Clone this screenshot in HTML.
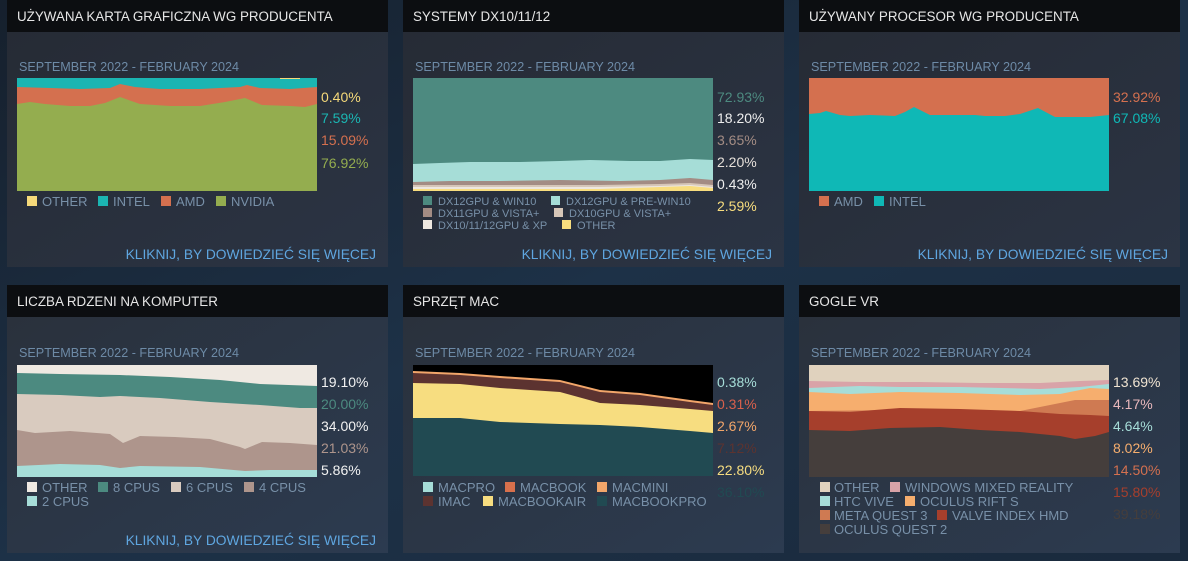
<!DOCTYPE html>
<html><head><meta charset="utf-8"><style>
html,body{margin:0;padding:0;background:#1b2838;}
svg{display:block}
text{font-family:"Liberation Sans",sans-serif;}
</style></head><body>
<svg width="1188" height="561" viewBox="0 0 1188 561" xmlns="http://www.w3.org/2000/svg">
<defs>
<linearGradient id="bg" x1="0" y1="0" x2="1" y2="1">
<stop offset="0" stop-color="#16202d"/><stop offset="0.5" stop-color="#1d3147"/><stop offset="1" stop-color="#1a2a3d"/>
</linearGradient>
<linearGradient id="pb" x1="0" y1="0" x2="1" y2="1">
<stop offset="0" stop-color="#262b35"/><stop offset="1" stop-color="#2b3444"/>
</linearGradient>
<linearGradient id="pb2" x1="0" y1="0" x2="1" y2="1">
<stop offset="0" stop-color="#2a313c"/><stop offset="1" stop-color="#2c3b50"/>
</linearGradient>
</defs>
<rect width="1188" height="561" fill="url(#bg)"/>
<g>
<rect x="7" y="0" width="381" height="32" fill="#0c0e11"/><rect x="7" y="32" width="381" height="235" fill="url(#pb)"/>
<rect x="403" y="0" width="381" height="32" fill="#0c0e11"/><rect x="403" y="32" width="381" height="235" fill="url(#pb)"/>
<rect x="799" y="0" width="381" height="32" fill="#0c0e11"/><rect x="799" y="32" width="381" height="235" fill="url(#pb)"/>
<rect x="7" y="285" width="381" height="32" fill="#0c0e11"/><rect x="7" y="317" width="381" height="236" fill="url(#pb2)"/>
<rect x="403" y="285" width="381" height="32" fill="#0c0e11"/><rect x="403" y="317" width="381" height="236" fill="url(#pb2)"/>
<rect x="799" y="285" width="381" height="32" fill="#0c0e11"/><rect x="799" y="317" width="381" height="236" fill="url(#pb2)"/>
</g>
<g fill="#e6e6e6" font-size="13.4">
<text x="17" y="21">UŻYWANA KARTA GRAFICZNA WG PRODUCENTA</text>
<text x="413" y="21">SYSTEMY DX10/11/12</text>
<text x="809" y="21">UŻYWANY PROCESOR WG PRODUCENTA</text>
<text x="17" y="306">LICZBA RDZENI NA KOMPUTER</text>
<text x="413" y="306">SPRZĘT MAC</text>
<text x="809" y="306">GOGLE VR</text>
</g>
<g fill="#6d8aa6" font-size="12.6">
<text x="19" y="71">SEPTEMBER 2022 - FEBRUARY 2024</text>
<text x="415" y="71">SEPTEMBER 2022 - FEBRUARY 2024</text>
<text x="811" y="71">SEPTEMBER 2022 - FEBRUARY 2024</text>
<text x="19" y="357">SEPTEMBER 2022 - FEBRUARY 2024</text>
<text x="415" y="357">SEPTEMBER 2022 - FEBRUARY 2024</text>
<text x="811" y="357">SEPTEMBER 2022 - FEBRUARY 2024</text>
</g>
<g fill="#5fa6e0" font-size="13.8" text-anchor="end">
<text x="376" y="259">KLIKNIJ, BY DOWIEDZIEĆ SIĘ WIĘCEJ</text>
<text x="772" y="259">KLIKNIJ, BY DOWIEDZIEĆ SIĘ WIĘCEJ</text>
<text x="1168" y="259">KLIKNIJ, BY DOWIEDZIEĆ SIĘ WIĘCEJ</text>
<text x="376" y="545">KLIKNIJ, BY DOWIEDZIEĆ SIĘ WIĘCEJ</text>
</g>

<!-- GPU chart -->
<rect x="17" y="78" width="300" height="113" fill="#1bb5b2"/>
<polygon fill="#d4704f" points="17,87 50,88 80,89 110,88 120,84 135,87 160,89 200,89 240,87 247,85 260,88 290,89 317,87 317,191 17,191"/>
<polygon fill="#94ad4f" points="17,104 30,102 45,104 70,106 90,106 105,103 120,97 140,104 170,106 200,106 225,102 245,98 262,105 290,106 305,107 317,104 317,191 17,191"/>
<rect x="280" y="78" width="20" height="1" fill="#f5d97a"/>
<g font-size="14"><text x="321" y="102" fill="#f5d97a">0.40%</text><text x="321" y="123" fill="#1bb5b2">7.59%</text><text x="321" y="145" fill="#d4704f">15.09%</text><text x="321" y="168" fill="#94ad4f">76.92%</text></g>
<g font-size="13" fill="#7890a8">
<rect x="27" y="196" width="10" height="10" fill="#f5d97a"/><text x="42" y="206">OTHER</text>
<rect x="98" y="196" width="10" height="10" fill="#1bb5b2"/><text x="113" y="206">INTEL</text>
<rect x="161" y="196" width="10" height="10" fill="#d4704f"/><text x="176" y="206">AMD</text>
<rect x="216" y="196" width="10" height="10" fill="#94ad4f"/><text x="231" y="206">NVIDIA</text>
</g>

<!-- DX chart -->
<rect x="413" y="78" width="300" height="113" fill="#4d8a80"/>
<polygon fill="#a6ddd7" points="413,164 440,163 470,162 520,162 560,161 590,160 630,161 660,161 690,159 713,160 713,191 413,191"/>
<polygon fill="#a38c84" points="413,182 450,181 500,181 560,180 620,181 660,180 690,178 713,180 713,191 413,191"/>
<polygon fill="#d6c6b8" points="413,185 500,185 600,185 660,184 690,183 713,185 713,191 413,191"/>
<polygon fill="#ede7e0" points="413,187 600,187 660,186 690,185 713,187 713,191 413,191"/>
<polygon fill="#f8dd7e" points="413,189 600,189 660,187 690,186 713,188 713,191 413,191"/>
<g font-size="14"><text x="717" y="102" fill="#4d8a80">72.93%</text><text x="717" y="123" fill="#eeeeee">18.20%</text><text x="717" y="145" fill="#a38c84">3.65%</text><text x="717" y="167" fill="#e6e0da">2.20%</text><text x="717" y="189" fill="#eeeeee">0.43%</text><text x="717" y="211" fill="#f8dd7e">2.59%</text></g>
<g font-size="11" fill="#7890a8">
<rect x="423" y="196" width="9" height="9" fill="#4d8a80"/><text x="438" y="205">DX12GPU &amp; WIN10</text>
<rect x="551" y="196" width="9" height="9" fill="#a6ddd7"/><text x="566" y="205">DX12GPU &amp; PRE-WIN10</text>
<rect x="423" y="208" width="9" height="9" fill="#a38c84"/><text x="438" y="217">DX11GPU &amp; VISTA+</text>
<rect x="554" y="208" width="9" height="9" fill="#d6c6b8"/><text x="569" y="217">DX10GPU &amp; VISTA+</text>
<rect x="423" y="220" width="9" height="9" fill="#ede7e0"/><text x="438" y="229">DX10/11/12GPU &amp; XP</text>
<rect x="562" y="220" width="9" height="9" fill="#f8dd7e"/><text x="577" y="229">OTHER</text>
</g>

<!-- CPU chart -->
<rect x="809" y="78" width="300" height="113" fill="#d4704f"/>
<polygon fill="#0fb8b6" points="809,114 820,113 826,111 840,115 850,116 870,115 895,116 905,112 914,107 930,115 950,115 975,115 985,116 1005,116 1020,114 1038,108 1055,117 1070,117 1090,117 1109,115 1109,191 809,191"/>
<g font-size="14"><text x="1113" y="102" fill="#d4704f">32.92%</text><text x="1113" y="123" fill="#0fb8b6">67.08%</text></g>
<g font-size="13" fill="#7890a8">
<rect x="819" y="196" width="10" height="10" fill="#d4704f"/><text x="834" y="206">AMD</text>
<rect x="874" y="196" width="10" height="10" fill="#0fb8b6"/><text x="889" y="206">INTEL</text>
</g>

<!-- Cores chart -->
<rect x="17" y="365" width="300" height="112" fill="#efe9e2"/>
<polygon fill="#4c8a80" points="17,373 60,374 120,375 170,377 220,380 260,384 317,386 317,477 17,477"/>
<polygon fill="#d9cbbf" points="17,394 60,395 100,397 120,396 160,398 210,402 260,405 300,408 317,408 317,477 17,477"/>
<polygon fill="#ae958c" points="17,430 35,433 70,431 110,434 123,443 140,436 175,437 210,439 240,447 245,449 262,442 290,443 317,445 317,477 17,477"/>
<polygon fill="#a6ddd8" points="17,466 60,464 100,465 120,468 140,466 200,467 245,471 270,470 317,470 317,477 17,477"/>
<g font-size="14"><text x="321" y="387" fill="#f2f2f2">19.10%</text><text x="321" y="409" fill="#4c8a80">20.00%</text><text x="321" y="431" fill="#f2f2f2">34.00%</text><text x="321" y="453" fill="#ae958c">21.03%</text><text x="321" y="475" fill="#f2f2f2">5.86%</text></g>
<g font-size="13" fill="#7890a8">
<rect x="27" y="482" width="10" height="10" fill="#efe9e2"/><text x="42" y="492">OTHER</text>
<rect x="98" y="482" width="10" height="10" fill="#4c8a80"/><text x="113" y="492">8 CPUS</text>
<rect x="171" y="482" width="10" height="10" fill="#d9cbbf"/><text x="186" y="492">6 CPUS</text>
<rect x="244" y="482" width="10" height="10" fill="#ae958c"/><text x="259" y="492">4 CPUS</text>
<rect x="27" y="496" width="10" height="10" fill="#a6ddd8"/><text x="42" y="506">2 CPUS</text>
</g>

<!-- Mac chart -->
<rect x="413" y="365" width="300" height="111" fill="#000000"/>
<polygon fill="#f2a66a" points="413,371 460,373 500,376 560,380 600,390 640,393 690,400 713,403 713,476 413,476"/>
<polygon fill="#5c3330" points="413,373 460,375 500,378 560,382 600,392 640,395 690,402 713,405 713,476 413,476"/>
<polygon fill="#f7dd80" points="413,383 460,384 500,388 560,392 600,403 640,405 690,409 713,411 713,476 413,476"/>
<polygon fill="#214a52" points="413,418 460,418 500,422 560,424 600,425 640,427 690,431 713,433 713,476 413,476"/>
<g font-size="14"><text x="717" y="387" fill="#a6ddd8">0.38%</text><text x="717" y="409" fill="#d8604c">0.31%</text><text x="717" y="431" fill="#f2a66a">2.67%</text><text x="717" y="453" fill="#5c3330">7.12%</text><text x="717" y="475" fill="#f7dd80">22.80%</text><text x="717" y="497" fill="#214a52">36.10%</text></g>
<g font-size="13" fill="#7890a8">
<rect x="423" y="482" width="10" height="10" fill="#a6ddd8"/><text x="438" y="492">MACPRO</text>
<rect x="505" y="482" width="10" height="10" fill="#d8704c"/><text x="520" y="492">MACBOOK</text>
<rect x="597" y="482" width="10" height="10" fill="#f2a66a"/><text x="612" y="492">MACMINI</text>
<rect x="423" y="496" width="10" height="10" fill="#5c3330"/><text x="438" y="506">IMAC</text>
<rect x="483" y="496" width="10" height="10" fill="#f7dd80"/><text x="498" y="506">MACBOOKAIR</text>
<rect x="597" y="496" width="10" height="10" fill="#214a52"/><text x="612" y="506">MACBOOKPRO</text>
</g>

<!-- VR chart -->
<rect x="809" y="365" width="300" height="112" fill="#e0d2be"/>
<polygon fill="#d9a3a8" points="809,381 860,382 920,382 980,383 1040,383 1080,381 1109,380 1109,477 809,477"/>
<polygon fill="#a6ddd8" points="809,388 860,386 900,387 960,387 1040,389 1080,387 1109,384 1109,477 809,477"/>
<polygon fill="#f6ae6e" points="809,392 850,394 900,392 960,393 1020,395 1060,394 1090,388 1109,389 1109,477 809,477"/>
<polygon fill="#cf7a52" points="809,411 900,410 1020,411 1050,405 1075,400 1109,400 1109,477 809,477"/>
<polygon fill="#a63f2c" points="809,411 850,412 900,408 960,409 1020,411 1060,414 1090,415 1109,416 1109,477 809,477"/>
<polygon fill="#453e3c" points="809,430 850,431 890,428 940,427 980,430 1020,432 1060,436 1075,439 1095,436 1109,432 1109,477 809,477"/>
<g font-size="14"><text x="1113" y="387" fill="#f0e4d2">13.69%</text><text x="1113" y="409" fill="#e8b8bc">4.17%</text><text x="1113" y="431" fill="#a6ddd8">4.64%</text><text x="1113" y="453" fill="#f6ae6e">8.02%</text><text x="1113" y="475" fill="#d4704f">14.50%</text><text x="1113" y="497" fill="#a63f2c">15.80%</text><text x="1113" y="519" fill="#453e3c">39.18%</text></g>
<g font-size="13" fill="#7890a8">
<rect x="820" y="482" width="10" height="10" fill="#e0d2be"/><text x="834" y="492">OTHER</text>
<rect x="890" y="482" width="10" height="10" fill="#d9a3a8"/><text x="905" y="492">WINDOWS MIXED REALITY</text>
<rect x="820" y="496" width="10" height="10" fill="#a6ddd8"/><text x="834" y="506">HTC VIVE</text>
<rect x="905" y="496" width="10" height="10" fill="#f6ae6e"/><text x="920" y="506">OCULUS RIFT S</text>
<rect x="820" y="510" width="10" height="10" fill="#cf7a52"/><text x="834" y="520">META QUEST 3</text>
<rect x="937" y="510" width="10" height="10" fill="#a63f2c"/><text x="952" y="520">VALVE INDEX HMD</text>
<rect x="820" y="524" width="10" height="10" fill="#453e3c"/><text x="834" y="534">OCULUS QUEST 2</text>
</g>
</svg>
</body></html>
